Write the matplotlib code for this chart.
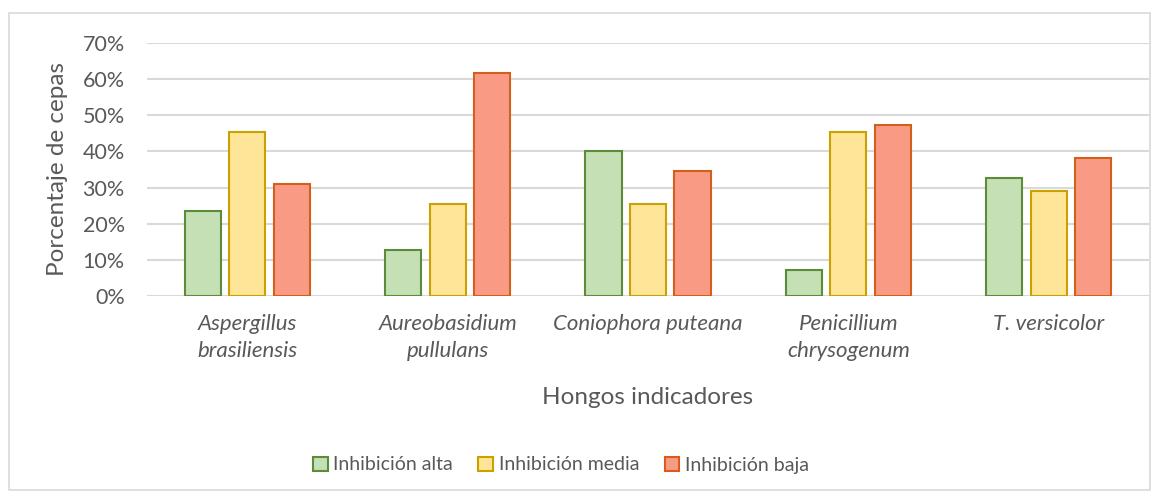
import matplotlib.pyplot as plt
import numpy as np
from matplotlib.patches import Rectangle, Patch

# Porcentaje de cepas por nivel de inhibición para cada hongo indicador
hongos = ["Aspergillus\nbrasiliensis", "Aureobasidium\npullulans", "Coniophora puteana",
          "Penicillium\nchrysogenum", "T. versicolor"]
inhibicion_alta = [0.236, 0.127, 0.400, 0.073, 0.327]
inhibicion_media = [0.455, 0.255, 0.255, 0.455, 0.291]
inhibicion_baja = [0.309, 0.618, 0.345, 0.473, 0.382]
series_labels = ["Inhibición alta", "Inhibición media", "Inhibición baja"]
y_ticks = [0, 0.1, 0.2, 0.3, 0.4, 0.5, 0.6, 0.7]

faces = ["#C5E0B4", "#FFE597", "#F99B84"]
edges = ["#5B8C3A", "#C9A100", "#D2601A"]
TXT = "#595959"
GRID = "#D9D9D9"

plt.rcParams["font.family"] = ["Lato", "DejaVu Sans"]

W, H = 1163, 497
fig = plt.figure(figsize=(W / 100, H / 100), dpi=100)
fig.patch.set_facecolor("white")

# chart border
fig.add_artist(Rectangle((9 / W, 1 - 490 / H), 1141 / W, 477 / H, transform=fig.transFigure,
                         fill=False, edgecolor=GRID, linewidth=1.2))

ax = fig.add_axes([147 / W, (H - 296) / H, 1002 / W, 253 / H])

x = np.arange(len(hongos))
bw = 0.18
step = 0.222
for i, vals in enumerate([inhibicion_alta, inhibicion_media, inhibicion_baja]):
    ax.bar(x + (i - 1) * step, vals, width=bw, color=faces[i], edgecolor=edges[i],
           linewidth=1.5, zorder=3)

ax.set_xlim(-0.5, len(hongos) - 0.5)
ax.set_ylim(0, 0.7)
ax.set_yticks(y_ticks)
ax.set_yticklabels([f"{int(round(t * 100))}%" for t in y_ticks])
for t in y_ticks:
    ax.axhline(t, color=GRID, linewidth=1.5, zorder=1)

ax.set_xticks(x)
ax.set_xticklabels(hongos, style="italic", fontsize=16, color=TXT, linespacing=1.45)
ax.tick_params(axis="x", length=0, pad=13)
ax.tick_params(axis="y", length=0, pad=16, labelsize=15.5, labelcolor=TXT)
for s in ax.spines.values():
    s.set_visible(False)

ax.set_ylabel("Porcentaje de cepas", fontsize=17.5, color=TXT)
ax.yaxis.set_label_coords(-79 / 1002, 0.5)

fig.text(648 / W, 1 - 398 / H, "Hongos indicadores", ha="center", va="center",
         fontsize=17.5, color=TXT)

handles = [Patch(facecolor=faces[i], edgecolor=edges[i], linewidth=1.5) for i in range(3)]
fig.legend(handles, series_labels, loc="center", bbox_to_anchor=(561 / W, 1 - 465 / H),
           ncol=3, frameon=False, fontsize=14, labelcolor=TXT, handlelength=0.75,
           handleheight=0.75, handletextpad=0.3, columnspacing=1.3)

fig.savefig("out.png", dpi=100)
